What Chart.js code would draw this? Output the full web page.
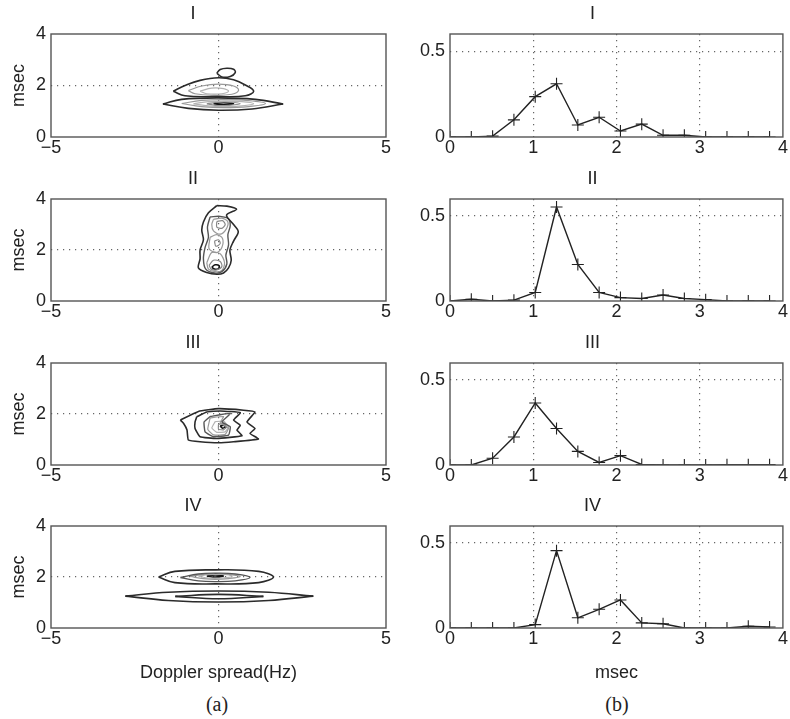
<!DOCTYPE html>
<html>
<head>
<meta charset="utf-8">
<script src="https://cdn.jsdelivr.net/npm/chart.js@4.4.1/dist/chart.umd.min.js"></script>
<style>
body { margin: 0; background: #fff; }
#fig { position: relative; width: 790px; height: 719px; overflow: hidden; }
.panel { position: absolute; }
.cap { position: absolute; font-family: 'Liberation Serif', 'Times New Roman', serif; font-size: 20px; color: #222; transform: translateX(-50%); }
</style>
</head>
<body>
<div id="fig">
  <div class="cap" style="left:217px;top:693px">(a)</div>
  <div class="cap" style="left:617px;top:693px">(b)</div>
</div>
<script>
// titres des lignes
const panelTitles = ['I', 'II', 'III', 'IV'];

// axes
const xTicksA = [-5, 0, 5];
const yTicksA = [0, 2, 4];
const xTicksB = [0, 1, 2, 3, 4];
const yTicksB = [0, 0.5];

// (b) profils de retard
const delay = [0, 0.256, 0.512, 0.768, 1.024, 1.28, 1.536, 1.792, 2.048, 2.304, 2.56, 2.816, 3.072, 3.328, 3.584, 3.84];
const pdpI   = [0, 0, 0.005, 0.10, 0.235, 0.31, 0.07, 0.115, 0.035, 0.075, 0.01, 0.01, 0, 0, 0, 0];
const pdpII  = [0, 0.01, 0, 0.005, 0.05, 0.553, 0.215, 0.05, 0.02, 0.015, 0.035, 0.015, 0.008, 0, 0, 0];
const pdpIII = [0, 0, 0.04, 0.165, 0.365, 0.215, 0.08, 0.015, 0.055, 0.003, 0, 0, 0, 0.002, 0.002, 0.002];
const pdpIV  = [0, 0, 0, 0, 0.02, 0.455, 0.06, 0.11, 0.165, 0.03, 0.025, 0, 0, 0, 0.01, 0.006];

// (a) contours [Hz, msec], avec le niveau de chaque contour
const ringsI = [
  [[-0.05,2.48],[0.05,2.62],[0.25,2.67],[0.45,2.63],[0.5,2.5],[0.35,2.35],[0.1,2.33],[-0.05,2.48]],
  [[-1.35,1.78],[-1.0,2.0],[-0.55,2.2],[0,2.3],[0.45,2.22],[0.8,2.02],[1.05,1.78],[0.8,1.6],[0,1.57],[-1.0,1.6],[-1.35,1.78]],
  [[-0.9,1.8],[-0.5,1.98],[0,2.05],[0.45,1.98],[0.6,1.82],[0.4,1.66],[-0.2,1.62],[-0.7,1.68],[-0.9,1.8]],
  [[-0.55,1.78],[-0.2,1.9],[0.15,1.88],[0.3,1.78],[0.1,1.68],[-0.35,1.68],[-0.55,1.78]],
  [[-1.66,1.28],[-1.1,1.46],[0,1.52],[1.1,1.46],[1.93,1.28]],
  [[-1.66,1.28],[-0.9,1.11],[0,1.04],[1.0,1.09],[1.93,1.28]],
  [[-1.1,1.3],[-0.5,1.42],[0.15,1.45],[0.9,1.41],[1.4,1.3],[0.9,1.18],[0.15,1.14],[-0.5,1.18],[-1.1,1.3]],
  [[-0.75,1.29],[-0.3,1.37],[0.15,1.39],[0.7,1.37],[1.05,1.29],[0.7,1.21],[0.15,1.19],[-0.3,1.21],[-0.75,1.29]],
  [[-0.35,1.29],[0,1.35],[0.3,1.36],[0.65,1.29],[0.3,1.23],[0,1.22],[-0.35,1.29]],
  [[-0.15,1.29],[0.15,1.33],[0.45,1.29],[0.15,1.25],[-0.15,1.29]]
];
const levelsI = [1, 1, 3, 4, 1, 1, 3, 4, 5, 7];

const ringsII = [
  [[-0.05,3.74],[0.25,3.72],[0.54,3.6],[0.24,3.37],[0.45,3.0],[0.59,2.72],[0.45,2.35],[0.34,2.0],[0.38,1.6],[0.3,1.3],[0.15,1.1],[-0.05,1.05],[-0.35,1.12],[-0.6,1.3],[-0.55,1.65],[-0.55,2.0],[-0.45,2.4],[-0.5,2.78],[-0.45,3.1],[-0.3,3.46],[-0.05,3.74]],
  [[-0.25,3.3],[0.05,3.32],[0.3,3.22],[0.35,2.95],[0.28,2.6],[0.3,2.2],[0.22,1.8],[0.25,1.45],[0.1,1.15],[-0.12,1.1],[-0.38,1.25],[-0.45,1.65],[-0.4,2.1],[-0.3,2.5],[-0.33,2.9],[-0.25,3.3]],
  [[-0.15,3.2],[0.1,3.25],[0.28,3.1],[0.22,2.8],[0.05,2.62],[-0.15,2.75],[-0.2,3.0],[-0.15,3.2]],
  [[-0.05,3.12],[0.12,3.15],[0.2,3.0],[0.1,2.85],[-0.05,2.9],[-0.05,3.12]],
  [[-0.25,2.5],[-0.05,2.6],[0.12,2.45],[0.1,2.1],[-0.05,1.9],[-0.28,2.05],[-0.25,2.5]],
  [[-0.12,2.35],[0,2.4],[0.05,2.25],[-0.08,2.15],[-0.12,2.35]],
  [[-0.35,1.5],[-0.2,1.9],[0.05,1.85],[0.18,1.5],[0.1,1.2],[-0.1,1.15],[-0.3,1.25],[-0.35,1.5]],
  [[-0.28,1.4],[-0.15,1.6],[0.05,1.55],[0.1,1.35],[-0.05,1.22],[-0.22,1.25],[-0.28,1.4]],
  [[-0.2,1.33],[-0.1,1.42],[0.02,1.38],[0,1.27],[-0.12,1.25],[-0.2,1.33]]
];
const levelsII = [1, 2, 3, 5, 3, 5, 3, 5, 7];

const ringsIII = [
  [[-1.14,1.76],[-0.6,2.1],[0,2.21],[0.75,2.15],[1.09,2.08],[0.85,1.69],[1.09,1.43],[0.94,1.24],[1.19,1.02],[0.45,0.91],[0,0.87],[-0.55,0.91],[-0.9,0.98],[-0.94,1.37],[-1.04,1.63],[-1.14,1.76]],
  [[-0.65,1.89],[-0.35,2.08],[0.05,2.12],[0.65,2.05],[0.45,1.76],[0.65,1.56],[0.55,1.37],[0.7,1.15],[-0.05,1.04],[-0.55,1.11],[-0.7,1.43],[-0.7,1.69],[-0.65,1.89]],
  [[-0.25,1.9],[0.35,2.02],[0.1,1.69],[0.35,1.5],[0.3,1.17],[-0.15,1.11],[-0.4,1.3],[-0.43,1.69],[-0.25,1.9]],
  [[-0.25,1.85],[0.15,1.9],[0.05,1.65],[0.3,1.45],[0.2,1.2],[-0.15,1.18],[-0.32,1.4],[-0.25,1.85]],
  [[-0.1,1.7],[0.15,1.72],[0.3,1.5],[0.2,1.3],[-0.05,1.28],[-0.2,1.45],[-0.1,1.7]],
  [[0,1.6],[0.15,1.62],[0.25,1.5],[0.15,1.38],[0,1.4],[0,1.6]],
  [[0.05,1.53],[0.15,1.56],[0.22,1.5],[0.12,1.44],[0.05,1.53]]
];
const levelsIII = [1, 1, 2, 3, 4, 5, 7];

const ringsIV = [
  [[-1.79,2.0],[-1.3,2.22],[-0.08,2.28],[1.2,2.22],[1.64,2.0],[1.2,1.78],[-0.08,1.73],[-1.3,1.78],[-1.79,2.0]],
  [[-1.14,1.98],[-0.6,2.12],[-0.1,2.15],[0.5,2.12],[0.94,1.98],[0.5,1.85],[-0.1,1.82],[-0.6,1.85],[-1.14,1.98]],
  [[-0.85,2.02],[-0.45,2.1],[-0.1,2.13],[0.3,2.1],[0.65,2.02],[0.3,1.94],[-0.1,1.91],[-0.45,1.94],[-0.85,2.02]],
  [[-0.6,2.03],[-0.3,2.09],[0.1,2.1],[0.4,2.03],[0.1,1.96],[-0.3,1.96],[-0.6,2.03]],
  [[-0.35,2.04],[-0.1,2.08],[0.15,2.04],[-0.1,2.0],[-0.35,2.04]],
  [[-2.78,1.25],[-1.5,1.4],[0,1.45],[1.5,1.4],[2.83,1.25]],
  [[-2.78,1.25],[-1.5,1.08],[0,1.02],[1.5,1.08],[2.83,1.25]],
  [[-1.29,1.24],[0,1.32],[1.34,1.24]],
  [[-1.29,1.24],[0,1.15],[1.34,1.24]]
];
const levelsIV = [1, 2, 3, 4, 7, 1, 1, 1, 1];

// mise en page
const rowTop = [34, 199, 363, 526];
const rowBottom = [137, 301, 465, 628];
const levelColor = {1: '#2b2b2b', 2: '#555', 3: '#999', 4: '#b3b3b3', 5: '#888', 7: '#111'};
const levelWidth = {1: 1.6, 2: 1.4, 3: 1.2, 4: 1.2, 5: 1.2, 7: 1.6};

Chart.defaults.font.family = "'Liberation Sans', Arial, sans-serif";
Chart.defaults.color = '#222';

const framePlugin = {
    id: 'frame',
    afterDraw(chart) {
        const { ctx, chartArea: a } = chart;
        ctx.save();
        ctx.strokeStyle = '#555';
        ctx.lineWidth = 1.4;
        ctx.strokeRect(a.left, a.top, a.right - a.left, a.bottom - a.top);
        ctx.restore();
    }
};

function fmt(v) {
    return v < 0 ? '\u2212' + Math.abs(v) : String(v);
}

function gridColor(min, max) {
    return c => (c.tick && c.tick.value !== min && c.tick.value !== max) ? '#666' : 'rgba(0,0,0,0)';
}

function contourSets(rings, levels, tension) {
    return rings.map((ring, i) => ({
        data: ring.map(p => ({ x: p[0], y: p[1] })),
        showLine: true,
        pointRadius: 0,
        tension: tension,
        borderColor: levelColor[levels[i]],
        borderWidth: levelWidth[levels[i]]
    }));
}

function profileSet(values) {
    return [{
        data: delay.map((x, i) => ({ x: x, y: values[i] })),
        showLine: true,
        borderColor: '#222',
        borderWidth: 1.4,
        pointStyle: 'cross',
        pointRadius: 6,
        pointBorderWidth: 1.1,
        pointBorderColor: '#222',
        tension: 0
    }];
}

function makePanel(col, row, datasets) {
    const last = row === 3;
    const w = col === 0 ? 400 : 390;
    const plotH = rowBottom[row] - rowTop[row];
    const xh = last ? 58 : 28;
    const h = 34 + plotH + xh;
    const canvas = document.createElement('canvas');
    canvas.width = w;
    canvas.height = h;
    canvas.className = 'panel';
    canvas.style.left = (col === 0 ? 0 : 400) + 'px';
    canvas.style.top = (rowTop[row] - 34) + 'px';
    canvas.style.width = w + 'px';
    canvas.style.height = h + 'px';
    document.getElementById('fig').appendChild(canvas);

    const xt = col === 0 ? xTicksA : xTicksB;
    const yt = col === 0 ? yTicksA : yTicksB;
    const xmin = xt[0], xmax = xt[xt.length - 1];
    const ymin = 0, ymax = col === 0 ? 4 : 0.6;

    new Chart(canvas, {
        type: 'scatter',
        data: { datasets: datasets },
        options: {
            responsive: false,
            animation: false,
            devicePixelRatio: 1,
            events: [],
            layout: { padding: { left: 0, right: col === 0 ? 14 : 5, top: 0, bottom: 0 } },
            plugins: {
                legend: { display: false },
                tooltip: { enabled: false },
                title: {
                    display: true,
                    text: panelTitles[row],
                    color: '#222',
                    font: { size: 18, weight: 'normal' },
                    padding: { top: 3, bottom: 9.4 }
                }
            },
            scales: {
                x: {
                    type: 'linear',
                    min: xmin,
                    max: xmax,
                    afterBuildTicks: s => { s.ticks = xt.map(v => ({ value: v })); },
                    afterFit: s => { s.height = xh; },
                    ticks: { font: { size: 18, lineHeight: 1 }, padding: 2, maxRotation: 0, autoSkip: false, callback: v => fmt(v) },
                    grid: { drawTicks: false, lineWidth: 1.2, color: gridColor(xmin, xmax) },
                    border: { display: false, dash: [1.2, 4.8] },
                    title: last
                        ? { display: true, text: col === 0 ? 'Doppler spread(Hz)' : 'msec', font: { size: 18 }, padding: { top: 0, bottom: 2.2 } }
                        : { display: false }
                },
                y: {
                    type: 'linear',
                    min: ymin,
                    max: ymax,
                    afterBuildTicks: s => { s.ticks = yt.map(v => ({ value: v })); },
                    afterFit: s => { s.width = col === 0 ? 51 : 50; },
                    ticks: { font: { size: 18 }, padding: 5, autoSkip: false, callback: v => fmt(v) },
                    grid: { drawTicks: false, lineWidth: 1.2, color: gridColor(ymin, ymax) },
                    border: { display: false, dash: [1.2, 4.8] },
                    title: col === 0
                        ? { display: true, text: 'msec', font: { size: 18 }, padding: { top: 8, bottom: 0 } }
                        : { display: false }
                }
            }
        },
        plugins: [framePlugin]
    });
}

makePanel(0, 0, contourSets(ringsI, levelsI, 0.4));
makePanel(0, 1, contourSets(ringsII, levelsII, 0.3));
makePanel(0, 2, contourSets(ringsIII, levelsIII, 0.12));
makePanel(0, 3, contourSets(ringsIV, levelsIV, 0.4));
makePanel(1, 0, profileSet(pdpI));
makePanel(1, 1, profileSet(pdpII));
makePanel(1, 2, profileSet(pdpIII));
makePanel(1, 3, profileSet(pdpIV));
</script>
</body>
</html>
